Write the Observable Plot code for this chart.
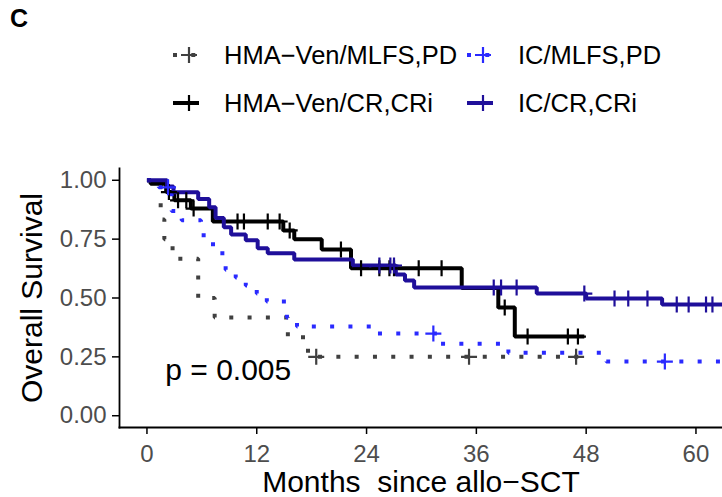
<!DOCTYPE html>
<html><head><meta charset="utf-8">
<script src="https://cdn.jsdelivr.net/npm/d3@7"></script>
<script src="https://cdn.jsdelivr.net/npm/@observablehq/plot@0.6"></script>
<style>
body{margin:0;background:#fff;font-family:"Liberation Sans",Arial,sans-serif;}
#wrap{position:relative;width:722px;height:497px;overflow:hidden;}
#chart{position:absolute;left:0;top:0;}
#tag{position:absolute;left:10px;top:6px;font-weight:bold;font-size:25px;line-height:1;}
.leg{position:absolute;display:flex;align-items:center;height:30px;font-size:25.5px;color:#000;white-space:nowrap;}
.leg svg{margin-right:24px;}
</style></head><body>
<div id="wrap"><div id="chart"></div><div id="tag">C</div><div id="legend"></div></div>
<script>
// ---- data ----
const seriesNames = ["HMA−Ven/MLFS,PD", "HMA−Ven/CR,CRi", "IC/MLFS,PD", "IC/CR,CRi"];
const seriesColors = ["#404040", "#000000", "#2a2aff", "#1f0f9a"];
const seriesDotted = [true, false, true, false];

const hmaMlfsTime = [0, 1.5, 1.9, 2.8, 5.6, 7.4, 15.4, 17.6, 47.3];
const hmaMlfsSurv = [1, 0.833, 0.75, 0.667, 0.5, 0.417, 0.333, 0.25, 0.25];
const hmaMlfsCensor = [18.5, 35.2, 46.9];

const hmaCrTime = [0, 0.4, 2.1, 3.0, 4.8, 7.2, 14.9, 16.1, 19.1, 22.3, 34.4, 38.4, 40.2, 47.8];
const hmaCrSurv = [1, 0.985, 0.95, 0.915, 0.88, 0.825, 0.787, 0.75, 0.706, 0.626, 0.543, 0.46, 0.336, 0.336];
const hmaCrCensor = [2.4, 3.4, 4.3, 5.1, 9.9, 10.6, 13.2, 14.5, 15.6, 21.2, 23.4, 25.4, 26.5, 27.0, 29.7, 32.2, 39.1, 41.6, 46.0, 47.1];

const icMlfsTime = [0, 1.3, 2.7, 3.8, 5.9, 7.0, 7.9, 8.6, 9.7, 10.8, 12.0, 13.1, 15.3, 16.4, 25.0, 31.8, 39.5, 50.2, 62.9];
const icMlfsSurv = [1, 0.97, 0.87, 0.83, 0.766, 0.728, 0.69, 0.62, 0.587, 0.553, 0.519, 0.485, 0.417, 0.379, 0.349, 0.306, 0.268, 0.23, 0.23];
const icMlfsCensor = [2.3, 31.3, 56.6];

const icCrTime = [0, 2.2, 2.9, 5.6, 6.8, 7.5, 8.4, 9.2, 10.8, 12.1, 13.2, 16.1, 22.5, 27.2, 28.2, 29.2, 42.6, 48.0, 56.3, 62.9];
const icCrSurv = [1, 0.974, 0.949, 0.92, 0.885, 0.84, 0.80, 0.77, 0.745, 0.711, 0.69, 0.664, 0.638, 0.60, 0.574, 0.545, 0.519, 0.498, 0.472, 0.472];
const icCrCensor = [25.4, 26.6, 27.0, 37.9, 38.7, 40.4, 47.8, 51.1, 52.6, 54.7, 57.9, 59.2, 61.1, 61.8];

const xTicks = [0, 12, 24, 36, 48, 60];
const yTicks = [0, 0.25, 0.5, 0.75, 1];
const pLabel = "p = 0.005";
const xTitle = "Months  since allo−SCT";
const yTitle = "Overall Survival";

// ---- build tables ----
const curves = [
  [hmaMlfsTime, hmaMlfsSurv, hmaMlfsCensor],
  [hmaCrTime, hmaCrSurv, hmaCrCensor],
  [icMlfsTime, icMlfsSurv, icMlfsCensor],
  [icCrTime, icCrSurv, icCrCensor]
];
const lineRows = [], censorRows = [];
curves.forEach(([t, s, c], i) => {
  t.forEach((ti, j) => lineRows.push({series: seriesNames[i], time: ti, surv: s[j]}));
  c.forEach(ci => {
    let k = 0;
    for (let j = 0; j < t.length; j++) if (t[j] <= ci) k = j;
    censorRows.push({series: seriesNames[i], time: ci, surv: s[k]});
  });
});

const plusSymbol = {
  draw(ctx, size) {
    const r = Math.sqrt(size / Math.PI);
    ctx.moveTo(-r, 0); ctx.lineTo(r, 0);
    ctx.moveTo(0, -r); ctx.lineTo(0, r);
  }
};

const marks = [];
seriesNames.forEach((name, i) => {
  marks.push(Plot.line(lineRows.filter(d => d.series === name), {
    x: "time", y: "surv", curve: "step-after", stroke: seriesColors[i],
    strokeWidth: 4,
    strokeDasharray: seriesDotted[i] ? "4,14.3" : null,
    strokeLinecap: "butt", strokeLinejoin: "miter", clip: true
  }));
});
seriesNames.forEach((name, i) => {
  marks.push(Plot.dot(censorRows.filter(d => d.series === name), {
    x: "time", y: "surv", symbol: plusSymbol, r: 8, fill: "none",
    stroke: seriesColors[i], strokeWidth: 2.2, clip: true
  }));
});

const chart = Plot.plot({
  width: 722, height: 497,
  marginLeft: 119, marginRight: 0, marginTop: 168, marginBottom: 70,
  style: {fontFamily: "'Liberation Sans', Arial, sans-serif", background: "#fff", overflow: "visible"},
  x: {domain: [-3, 62.9]},
  y: {domain: [-0.05, 1.05]},
  marks: [
    Plot.axisX(xTicks, {tickSize: 7, tickPadding: 10, fontSize: 24, color: "#4d4d4d", stroke: "#000", strokeWidth: 1.5, label: null, tickFormat: d => String(d)}),
    Plot.axisY(yTicks, {tickSize: 7, tickPadding: 6, fontSize: 24, color: "#4d4d4d", stroke: "#000", strokeWidth: 1.5, label: null, tickFormat: d3.format(".2f")}),
    Plot.frame({anchor: "left", stroke: "#000", strokeWidth: 1.8}),
    Plot.frame({anchor: "bottom", stroke: "#000", strokeWidth: 1.8}),
    ...marks,
    Plot.text([pLabel], {x: 2.0, y: 0.192, text: d => d, textAnchor: "start", fontSize: 30, fill: "#000"}),
    Plot.text([xTitle], {frameAnchor: "bottom", dy: 55, lineAnchor: "middle", textAnchor: "middle", text: d => d, fontSize: 30, fill: "#000"}),
    Plot.text([yTitle], {frameAnchor: "left", dx: -87, rotate: -90, textAnchor: "middle", lineAnchor: "middle", text: d => d, fontSize: 30, fill: "#000"})
  ]
});
document.getElementById("chart").appendChild(chart);

// legend
const legendPos = [
  {i: 0, left: 172, top: 40},
  {i: 2, left: 466, top: 40},
  {i: 1, left: 172, top: 88},
  {i: 3, left: 466, top: 88}
];
const legend = document.getElementById("legend");
legendPos.forEach(({i, left, top}) => {
  const div = document.createElement("div");
  div.className = "leg";
  div.style.left = left + "px";
  div.style.top = top + "px";
  const dash = seriesDotted[i] ? 'stroke-dasharray="4,14.3"' : "";
  div.innerHTML = `<svg width="28" height="30"><line x1="1" x2="27" y1="15" y2="15" stroke="${seriesColors[i]}" stroke-width="4" ${dash}/>`
    + `<path d="M9,15H25M17,7V23" stroke="${seriesColors[i]}" stroke-width="2.2" fill="none"/></svg>`
    + `<span>${seriesNames[i]}</span>`;
  legend.appendChild(div);
});
</script>
</body></html>
